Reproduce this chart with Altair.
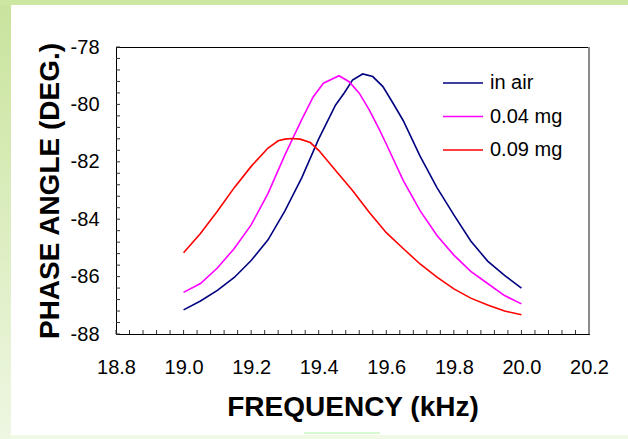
import altair as alt
import pandas as pd

# ---- data ----
series_names = ["in air", "0.04 mg", "0.09 mg"]
series_colors = ["#000080", "#ff00ff", "#ff0000"]

freq_air = [19.0, 19.05, 19.1, 19.15, 19.2, 19.25, 19.3, 19.35, 19.4, 19.45, 19.475, 19.5, 19.53,
            19.56, 19.59, 19.62, 19.65, 19.7, 19.75, 19.8, 19.85, 19.9, 19.95, 20.0]
phase_air = [-87.16, -86.85, -86.48, -86.03, -85.44, -84.72, -83.71, -82.55, -81.20, -80.02,
             -79.61, -79.15, -78.94, -79.03, -79.38, -79.96, -80.56, -81.80, -82.90, -83.85,
             -84.76, -85.46, -85.96, -86.40]

freq_04 = [19.0, 19.05, 19.1, 19.15, 19.2, 19.25, 19.3, 19.35, 19.384, 19.414, 19.46, 19.49,
           19.52, 19.55, 19.58, 19.6, 19.65, 19.7, 19.75, 19.8, 19.85, 19.9, 19.95, 20.0]
phase_04 = [-86.55, -86.24, -85.70, -85.02, -84.20, -83.10, -81.76, -80.52, -79.73, -79.26,
            -79.00, -79.21, -79.61, -80.20, -80.89, -81.38, -82.65, -83.70, -84.57, -85.25,
            -85.82, -86.24, -86.66, -86.95]

freq_09 = [19.0, 19.05, 19.1, 19.15, 19.2, 19.25, 19.28, 19.3, 19.32, 19.345, 19.375, 19.4,
           19.45, 19.5, 19.55, 19.6, 19.65, 19.7, 19.75, 19.8, 19.85, 19.9, 19.95, 20.0]
phase_09 = [-85.17, -84.50, -83.72, -82.90, -82.16, -81.52, -81.27, -81.21, -81.19, -81.21,
            -81.33, -81.60, -82.30, -83.00, -83.77, -84.47, -85.02, -85.56, -86.02, -86.43,
            -86.75, -86.99, -87.20, -87.33]

x_ticks = [18.8, 19.0, 19.2, 19.4, 19.6, 19.8, 20.0, 20.2]
y_ticks = [-88, -86, -84, -82, -80, -78]
x_minor = [round(18.8 + 0.04 * i, 2) for i in range(36)]
y_minor = [round(-88 + 0.4 * i, 1) for i in range(26)]

W, H = 473, 287
FONT = "Liberation Sans"

rows = []
for name, fs, ps in [(series_names[0], freq_air, phase_air),
                     (series_names[1], freq_04, phase_04),
                     (series_names[2], freq_09, phase_09)]:
    for f, p in zip(fs, ps):
        rows.append({"freq": f, "phase": p, "series": name})
df = pd.DataFrame(rows)

xscale = alt.Scale(domain=[18.8, 20.2], nice=False, zero=False)
yscale = alt.Scale(domain=[-88, -78], nice=False, zero=False)

lines = alt.Chart(df).mark_line(strokeWidth=1.6).encode(
    x=alt.X("freq:Q", scale=xscale,
            axis=alt.Axis(title="FREQUENCY (kHz)", values=x_ticks, format=".1f",
                          ticks=False, labelFontSize=20, labelFont=FONT, labelColor="black",
                          labelPadding=23, titleFont=FONT, titleFontSize=28, titleFontWeight="bold",
                          titleColor="black", titleBaseline="alphabetic", titleY=81,
                          domainColor="black", grid=False, labelFlush=False)),
    y=alt.Y("phase:Q", scale=yscale,
            axis=alt.Axis(title="PHASE ANGLE (DEG.)", values=y_ticks,
                          labelExpr="'-' + format(abs(datum.value), 'd')",
                          ticks=False, labelFontSize=20, labelFont=FONT, labelColor="black",
                          labelPadding=17, titleFont=FONT, titleFontSize=28, titleFontWeight="bold",
                          titleColor="black", titleBaseline="alphabetic", titleX=-58,
                          domainColor="black", grid=False, labelFlush=False)),
    color=alt.Color("series:N", scale=alt.Scale(domain=series_names, range=series_colors),
                    sort=series_names,
                    legend=alt.Legend(title=None, orient="none", legendX=326, legendY=26,
                                      symbolType="stroke", symbolSize=1600, symbolStrokeWidth=1.6,
                                      labelFontSize=20, labelFont=FONT, labelColor="black",
                                      labelOffset=6, clipHeight=20, rowPadding=13.5, padding=0)),
    order=alt.Order("freq:Q"),
)

xt = alt.Chart(pd.DataFrame({"freq": x_minor})).mark_rule(color="#333333", strokeWidth=1).encode(
    x=alt.X("freq:Q", scale=xscale), y=alt.value(H), y2=alt.value(H - 4))
yt = alt.Chart(pd.DataFrame({"phase": y_minor})).mark_rule(color="#333333", strokeWidth=1).encode(
    y=alt.Y("phase:Q", scale=yscale), x=alt.value(0), x2=alt.value(4))

one = pd.DataFrame({"a": [0]})
right_edge = alt.Chart(one).mark_rule(color="#8a8a8a", strokeWidth=2).encode(
    x=alt.value(W), y=alt.value(0), y2=alt.value(H))

left_band = alt.Chart(one).mark_rect(
    fill={"gradient": "linear", "x1": 0, "y1": 0, "x2": 0, "y2": 1,
          "stops": [{"offset": 0, "color": "#c9e39c"}, {"offset": 1, "color": "#eef7e2"}]}
).encode(x=alt.value(-116), x2=alt.value(-105), y=alt.value(-47), y2=alt.value(392))
top_band = alt.Chart(one).mark_rect(color="#cde6a2").encode(
    x=alt.value(-116), x2=alt.value(512), y=alt.value(-47), y2=alt.value(-42))
bottom_band = alt.Chart(one).mark_rect(color="#f0f8e6").encode(
    x=alt.value(-105), x2=alt.value(512), y=alt.value(388), y2=alt.value(392))
green_mark = alt.Chart(one).mark_rule(color="#c8f7c0", strokeWidth=1.5).encode(
    x=alt.value(188), x2=alt.value(264), y=alt.value(386))

chart = alt.layer(left_band, top_band, bottom_band, green_mark, xt, yt, lines, right_edge).properties(
    width=W, height=H, background="white",
    padding={"left": 116, "top": 47, "right": 39, "bottom": 105},
    autosize=alt.AutoSizeParams(type="none"),
).configure_view(stroke="black", strokeWidth=1)

chart.save("out.html", embed_options={"renderer": "svg", "actions": False})
